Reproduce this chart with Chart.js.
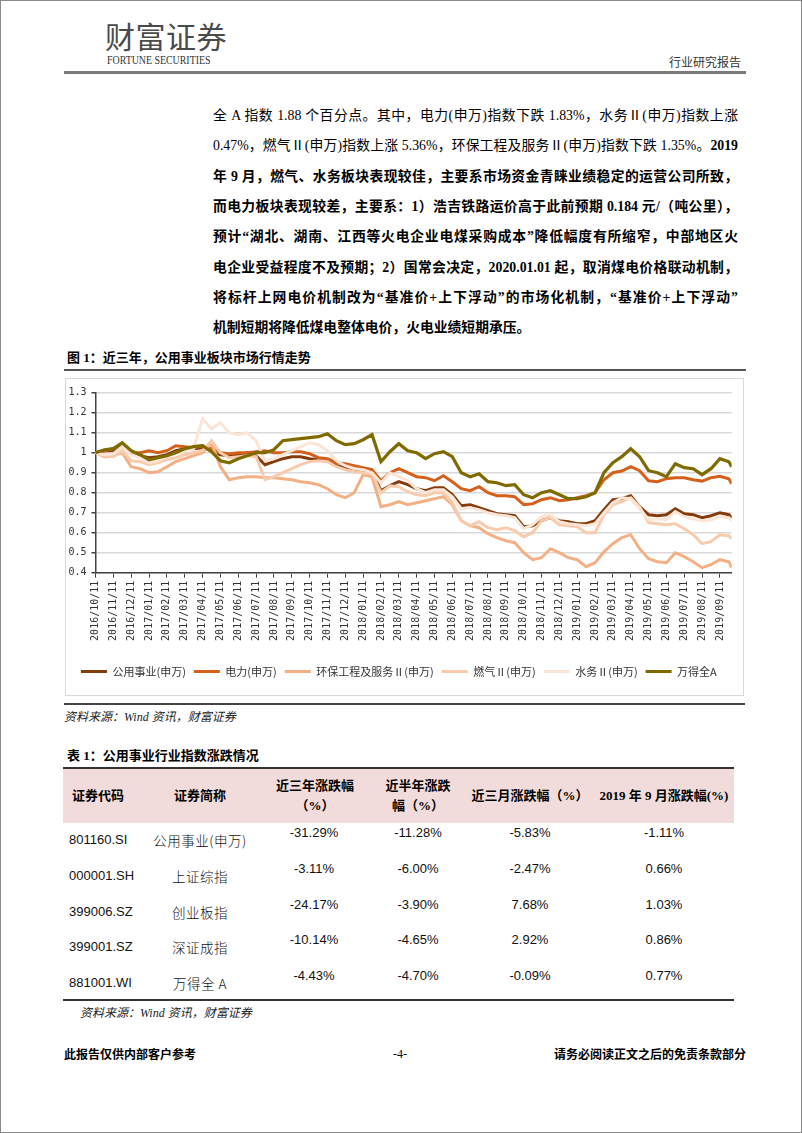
<!DOCTYPE html>
<html><head><meta charset="utf-8">
<script src="https://cdn.jsdelivr.net/npm/chart.js@4.4.0/dist/chart.umd.min.js"></script>
<style>
html,body{margin:0;padding:0;background:#fff;}
#page{position:relative;width:800px;height:1131px;border:1px solid #8a8a8a;overflow:hidden;font-family:"Liberation Serif","Noto Sans CJK SC",serif;color:#000;}
.a{position:absolute;white-space:nowrap;}
.tl{position:absolute;left:212px;width:525px;font-size:13.8px;line-height:20px;height:20px;text-align:justify;text-align-last:justify;overflow:visible;}
.b{font-weight:bold;}
.rule{position:absolute;}
.src{position:absolute;font-size:12px;font-style:italic;color:#222;line-height:16px;white-space:nowrap;}
.th{position:absolute;font-size:13px;font-weight:bold;line-height:18px;text-align:center;white-space:nowrap;transform:translateX(-50%);}
.td{position:absolute;font-size:13px;line-height:18px;text-align:center;white-space:nowrap;transform:translateX(-50%);font-family:"Liberation Sans Narrow","Liberation Sans","Noto Sans CJK SC",sans-serif;color:#111;}
.nm{position:absolute;font-size:13.5px;line-height:18px;text-align:center;white-space:nowrap;transform:translateX(-50%);font-family:"Noto Sans CJK SC",sans-serif;font-weight:300;color:#111;letter-spacing:0.5px;}
.cd{position:absolute;left:68px;font-size:13px;line-height:18px;white-space:nowrap;font-family:"Liberation Sans Narrow","Liberation Sans",sans-serif;color:#111;}
.ft{position:absolute;font-size:12px;font-weight:bold;line-height:16px;white-space:nowrap;font-family:"Noto Sans CJK SC",sans-serif;}
</style></head>
<body>
<div id="page">
  <div class="a" style="left:104px;top:16px;font-size:30px;line-height:36px;color:#4a4a4a;font-family:'Noto Sans CJK SC';letter-spacing:0.5px;">财富证券</div>
  <div class="a" style="left:106px;top:52px;font-size:11.5px;line-height:14px;color:#333;transform:scaleX(0.86);transform-origin:left top;">FORTUNE SECURITIES</div>
  <div class="a" style="left:668px;top:53px;font-size:12px;line-height:16px;color:#333;font-family:'Noto Sans CJK SC';">行业研究报告</div>
  <div class="rule" style="left:63px;top:70px;width:682px;height:3px;background:#7a7a7a;"></div>

  <div class="tl" style="top:105px;">全 A 指数 1.88 个百分点。其中，电力(申万)指数下跌 1.83%，水务Ⅱ(申万)指数上涨</div>
  <div class="tl" style="top:135px;">0.47%，燃气Ⅱ(申万)指数上涨 5.36%，环保工程及服务Ⅱ(申万)指数下跌 1.35%。<b>2019</b></div>
  <div class="tl b" style="top:166px;">年 9 月，燃气、水务板块表现较佳，主要系市场资金青睐业绩稳定的运营公司所致，</div>
  <div class="tl b" style="top:196px;">而电力板块表现较差，主要系：1）浩吉铁路运价高于此前预期 0.184 元/（吨公里），</div>
  <div class="tl b" style="top:226px;">预计“湖北、湖南、江西等火电企业电煤采购成本”降低幅度有所缩窄，中部地区火</div>
  <div class="tl b" style="top:257px;">电企业受益程度不及预期；2）国常会决定，2020.01.01 起，取消煤电价格联动机制，</div>
  <div class="tl b" style="top:287px;">将标杆上网电价机制改为“基准价+上下浮动”的市场化机制，“基准价+上下浮动”</div>
  <div class="tl b" style="top:317px;text-align-last:left;">机制短期将降低煤电整体电价，火电业绩短期承压。</div>

  <div class="a b" style="left:66px;top:348px;font-size:13px;line-height:18px;">图 1：近三年，公用事业板块市场行情走势</div>
  <div class="rule" style="left:63px;top:368px;width:682px;height:2px;background:#555;"></div>
  <div class="rule" style="left:64px;top:377px;width:679px;height:318px;box-sizing:border-box;border:1px solid #d9d9d9;"></div>
  <canvas id="c" width="677" height="316" style="position:absolute;left:65px;top:378px;"></canvas>
  <div class="rule" style="left:63px;top:702px;width:681px;height:2px;background:#444;"></div>
  <div class="src" style="left:63px;top:708px;">资料来源：Wind 资讯，财富证券</div>

  <div class="a b" style="left:66px;top:746px;font-size:13px;line-height:18px;">表 1：公用事业行业指数涨跌情况</div>
  <div class="rule" style="left:62px;top:766px;width:671px;height:2px;background:#333;"></div>
  <div class="rule" style="left:62px;top:768px;width:671px;height:54px;background:#f2dcdb;"></div>
  <div class="th" style="left:97px;top:786px;">证券代码</div>
  <div class="th" style="left:199px;top:786px;">证券简称</div>
  <div class="th" style="left:314px;top:776px;">近三年涨跌幅</div>
  <div class="th" style="left:314px;top:796px;">（%）</div>
  <div class="th" style="left:417px;top:776px;">近半年涨跌</div>
  <div class="th" style="left:417px;top:796px;">幅（%）</div>
  <div class="th" style="left:529px;top:786px;">近三月涨跌幅（%）</div>
  <div class="th" style="left:663px;top:786px;">2019 年 9 月涨跌幅(%)</div>
  <div id="rows"></div>
  <div class="rule" style="left:62px;top:998px;width:671px;height:2px;background:#333;"></div>
  <div class="src" style="left:79px;top:1004px;">资料来源：Wind 资讯，财富证券</div>

  <div class="ft" style="left:63px;top:1045px;">此报告仅供内部客户参考</div>
  <div class="ft" style="left:392px;top:1045px;font-family:'Liberation Serif';font-weight:normal;">-4-</div>
  <div class="ft" style="left:553px;top:1045px;">请务必阅读正文之后的免责条款部分</div>
</div>
<script>
// ---------- chart data ----------
const monthLabels = ['2016/10/11','2016/11/11','2016/12/11','2017/01/11','2017/02/11','2017/03/11','2017/04/11','2017/05/11','2017/06/11','2017/07/11','2017/08/11','2017/09/11','2017/10/11','2017/11/11','2017/12/11','2018/01/11','2018/02/11','2018/03/11','2018/04/11','2018/05/11','2018/06/11','2018/07/11','2018/08/11','2018/09/11','2018/10/11','2018/11/11','2018/12/11','2019/01/11','2019/02/11','2019/03/11','2019/04/11','2019/05/11','2019/06/11','2019/07/11','2019/08/11','2019/09/11'];
const yTickValues = [0.4,0.5,0.6,0.7,0.8,0.9,1.0,1.1,1.2,1.3];
const yTickLabels = ['0.4','0.5','0.6','0.7','0.8','0.9','1','1.1','1.2','1.3'];
const lastMonthPos = 35.66; // 2019/09/30 in months after 2016/10/11
const seriesNames = ['公用事业(申万)','电力(申万)','环保工程及服务Ⅱ(申万)','燃气Ⅱ(申万)','水务Ⅱ(申万)','万得全A'];
// half-monthly readings, last value = 2019/09/30
const gongyong = [1.0,1.01,1.01,1.03,1.0,0.985,0.975,0.98,0.99,1.01,1.02,1.02,1.025,1.01,0.99,0.985,0.99,1.0,0.985,0.94,0.955,0.97,0.98,0.98,0.97,0.965,0.958,0.935,0.925,0.915,0.91,0.905,0.81,0.835,0.855,0.84,0.82,0.81,0.825,0.825,0.79,0.735,0.74,0.725,0.71,0.695,0.69,0.685,0.63,0.635,0.66,0.675,0.66,0.655,0.645,0.645,0.66,0.715,0.765,0.77,0.785,0.73,0.69,0.685,0.69,0.72,0.695,0.69,0.675,0.685,0.7,0.69,0.675];
const dianli = [1.0,1.01,1.02,1.04,1.0,1.0,1.01,1.0,1.01,1.035,1.03,1.025,1.035,1.02,1.0,0.995,1.0,1.0,1.005,1.01,1.0,1.0,1.005,1.005,0.995,0.975,0.97,0.95,0.945,0.935,0.925,0.915,0.86,0.9,0.92,0.9,0.88,0.875,0.86,0.885,0.855,0.82,0.81,0.83,0.8,0.785,0.785,0.78,0.74,0.745,0.765,0.775,0.76,0.765,0.775,0.785,0.8,0.865,0.9,0.908,0.93,0.91,0.86,0.855,0.87,0.875,0.875,0.865,0.858,0.875,0.882,0.87,0.845];
const huanbao = [1.0,0.98,0.985,1.0,0.93,0.92,0.9,0.905,0.93,0.955,0.97,0.985,1.0,1.05,0.93,0.865,0.875,0.88,0.88,0.875,0.875,0.87,0.865,0.855,0.85,0.84,0.82,0.79,0.775,0.8,0.89,0.88,0.73,0.74,0.755,0.74,0.75,0.76,0.77,0.78,0.74,0.66,0.635,0.625,0.595,0.575,0.56,0.55,0.5,0.465,0.475,0.52,0.5,0.475,0.465,0.43,0.45,0.505,0.545,0.575,0.59,0.52,0.47,0.455,0.45,0.5,0.48,0.455,0.425,0.44,0.465,0.455,0.425];
const ranqi = [1.0,0.985,0.98,1.01,0.96,0.955,0.94,0.95,0.965,0.975,0.99,1.0,1.01,1.06,1.0,0.975,0.98,0.985,0.98,0.865,0.88,0.9,0.92,0.94,0.955,0.96,0.955,0.93,0.915,0.905,0.9,0.895,0.8,0.835,0.83,0.805,0.79,0.785,0.8,0.8,0.75,0.66,0.635,0.655,0.625,0.615,0.625,0.61,0.58,0.6,0.66,0.675,0.64,0.635,0.63,0.6,0.6,0.69,0.74,0.755,0.775,0.73,0.65,0.645,0.64,0.645,0.62,0.59,0.545,0.555,0.59,0.585,0.57];
const shuiwu = [1.0,0.99,0.995,1.03,0.99,0.975,0.95,0.96,0.98,1.0,1.01,1.02,1.17,1.12,1.15,1.1,1.09,1.1,1.06,0.96,0.97,0.99,1.01,1.03,1.05,1.04,1.01,0.96,0.935,0.92,0.915,0.9,0.85,0.9,0.88,0.86,0.82,0.8,0.815,0.815,0.78,0.72,0.725,0.715,0.7,0.69,0.685,0.675,0.62,0.64,0.68,0.69,0.655,0.645,0.64,0.635,0.645,0.7,0.75,0.775,0.77,0.72,0.665,0.67,0.665,0.705,0.68,0.67,0.66,0.665,0.68,0.675,0.66];
const wandeA = [1.0,1.015,1.02,1.05,1.01,0.99,0.965,0.975,0.985,1.0,1.02,1.03,1.035,1.005,0.96,0.95,0.97,0.985,1.0,1.0,1.015,1.06,1.065,1.07,1.075,1.08,1.095,1.06,1.04,1.045,1.065,1.09,0.955,1.005,1.045,1.01,1.0,0.97,0.995,1.005,0.98,0.9,0.88,0.895,0.855,0.85,0.835,0.84,0.79,0.775,0.8,0.81,0.79,0.77,0.77,0.78,0.8,0.9,0.95,0.98,1.02,0.98,0.91,0.9,0.88,0.945,0.925,0.92,0.89,0.92,0.97,0.955,0.93];
const seriesColors = ['#843c0c','#d4601c','#f4b084','#f8cbad','#fbe5d6','#7f6a00'];

// ---------- table data ----------
const tableCodes = ['801160.SI','000001.SH','399006.SZ','399001.SZ','881001.WI'];
const tableNames = ['公用事业(申万)','上证综指','创业板指','深证成指','万得全 A'];
const chg3y = ['-31.29%','-3.11%','-24.17%','-10.14%','-4.43%'];
const chg6m = ['-11.28%','-6.00%','-3.90%','-4.65%','-4.70%'];
const chg3m = ['-5.83%','-2.47%','7.68%','2.92%','-0.09%'];
const chgSep = ['-1.11%','0.66%','1.03%','0.86%','0.77%'];

(function buildTable(){
  const rowsEl = document.getElementById('rows');
  const rowY = [839,875,911,946,982];
  const valCols = [[313,chg3y],[417,chg6m],[529,chg3m],[663,chgSep]];
  let html = '';
  tableCodes.forEach((code,i)=>{
    const y = rowY[i];
    html += `<div class="cd" style="top:${y-9}px;">${code}</div>`;
    html += `<div class="nm" style="left:199px;top:${y-9}px;">${tableNames[i]}</div>`;
    valCols.forEach(([x,arr])=>{ html += `<div class="td" style="left:${x}px;top:${y-16}px;">${arr[i]}</div>`; });
  });
  rowsEl.innerHTML = html;
})();

// ---------- chart ----------
const allSeries = [gongyong,dianli,huanbao,ranqi,shuiwu,wandeA];
function toPoints(arr){
  return arr.map((v,i)=>({x: i===arr.length-1 ? lastMonthPos : i*0.5, y: v}));
}
const datasets = allSeries.map((arr,k)=>({
  label: seriesNames[k],
  data: toPoints(arr),
  borderColor: seriesColors[k],
  backgroundColor: seriesColors[k],
  borderWidth: k===5 ? 3.2 : 3,
  pointRadius: 0,
  tension: 0,
  fill: false,
  order: 6-k
}));

new Chart(document.getElementById('c'), {
  type: 'line',
  data: { datasets },
  options: {
    responsive: false,
    animation: false,
    devicePixelRatio: 1,
    layout: { padding: { left: 0, right: 11.3, top: 13.7, bottom: 8 } },
    plugins: {
      tooltip: { enabled: false },
      legend: {
        position: 'bottom',
        labels: {
          boxWidth: 26, boxHeight: 3, padding: 8,
          color: '#333',
          font: { family: 'Noto Sans CJK SC', size: 11 },
          generateLabels: (chart) => chart.data.datasets.map((ds,i)=>({
            text: ds.label, fillStyle: ds.borderColor, strokeStyle: ds.borderColor,
            lineWidth: 0, hidden: false, datasetIndex: i, fontColor: '#333'
          }))
        }
      }
    },
    scales: {
      x: {
        type: 'linear', min: 0, max: lastMonthPos,
        afterBuildTicks: (s) => { s.ticks = monthLabels.map((_,i)=>({value:i})); },
        afterFit: (s) => { s.height = 85.3; },
        ticks: {
          autoSkip: false, maxRotation: 90, minRotation: 90, padding: 3,
          color: '#333', font: { family: 'DejaVu Sans Mono', size: 10 },
          callback: (v, i) => monthLabels[i]
        },
        grid: { drawOnChartArea: false, tickLength: 5, tickColor: '#444', tickWidth: 1 },
        border: { color: '#444', width: 1.5 }
      },
      y: {
        min: 0.4, max: 1.3,
        afterBuildTicks: (s) => { s.ticks = yTickValues.map(v=>({value:v})); },
        afterFit: (s) => { s.width = 29.5; },
        ticks: {
          padding: 5, color: '#333', font: { family: 'DejaVu Sans Mono', size: 10 },
          callback: (v, i) => yTickLabels[i]
        },
        grid: { color: '#d9d9d9', lineWidth: 1.5, tickColor: '#444', tickLength: 4 },
        border: { color: '#444', width: 1.5 }
      }
    }
  }
});
</script>
</body></html>
